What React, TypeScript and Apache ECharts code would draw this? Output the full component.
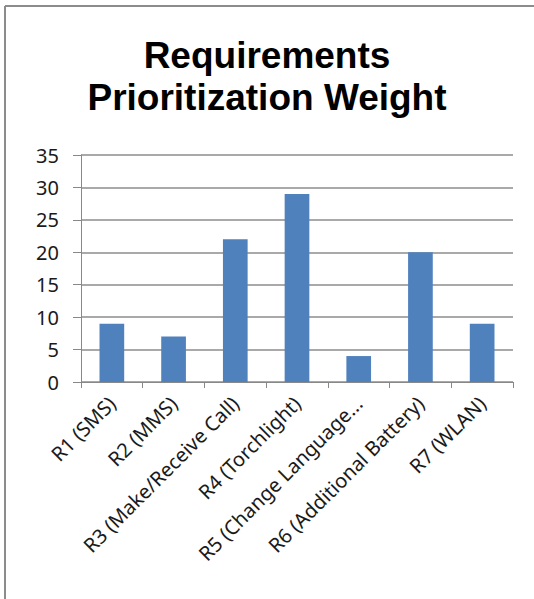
import React, { useEffect, useRef } from "react";
import * as echarts from "echarts";

const titleLines = ["Requirements", "Prioritization Weight"];
const categories = [
  "R1 (SMS)",
  "R2 (MMS)",
  "R3 (Make/Receive Call)",
  "R4 (Torchlight)",
  "R5 (Change Language...",
  "R6 (Additional Battery)",
  "R7 (WLAN)",
];
const weights = [9, 7, 22, 29, 4, 20, 9];
const yMin = 0;
const yMax = 35;
const yStep = 5;

export default function App() {
  const ref = useRef<HTMLDivElement>(null);
  useEffect(() => {
    if (!ref.current) return;
    const chart = echarts.init(ref.current, null, { renderer: "svg" });
    const font = "'Noto Sans', 'Open Sans', sans-serif";
    const titleStyle = {
      fontFamily: "'Liberation Sans', Arial, sans-serif",
      fontWeight: "bold",
      fontSize: 37,
      lineHeight: 41,
      color: "#000000",
    };
    chart.setOption({
      animation: false,
      backgroundColor: "#ffffff",
      title: titleLines.map((t, i) => ({
        text: t,
        left: "center",
        top: 35 + i * 42,
        padding: 0,
        textStyle: titleStyle,
      })),
      graphic: [
        {
          type: "line",
          shape: { x1: 5, y1: 6, x2: 5, y2: 599 },
          style: { stroke: "#8c8c8c", lineWidth: 2 },
        },
        {
          type: "line",
          shape: { x1: 5, y1: 6, x2: 534, y2: 6 },
          style: { stroke: "#8c8c8c", lineWidth: 2 },
        },
      ],
      grid: { left: 81, right: 21, top: 155, bottom: 217, containLabel: false },
      xAxis: {
        type: "category",
        data: categories,
        axisLine: { show: true, lineStyle: { color: "#888888", width: 1 } },
        axisTick: { show: true, length: 6, alignWithLabel: false, lineStyle: { color: "#888888" } },
        axisLabel: {
          rotate: 45,
          interval: 0,
          fontFamily: font,
          fontSize: 20,
          color: "#1a1a1a",
          margin: 18,
        },
      },
      yAxis: {
        type: "value",
        min: yMin,
        max: yMax,
        interval: yStep,
        axisLine: { show: true, lineStyle: { color: "#888888", width: 1 } },
        axisTick: { show: true, length: 8, lineStyle: { color: "#888888" } },
        splitLine: { show: true, lineStyle: { color: "#8c8c8c", width: 1.5 } },
        axisLabel: {
          fontFamily: font,
          fontSize: 20,
          color: "#1a1a1a",
          margin: 22,
        },
      },
      series: [
        {
          type: "bar",
          data: weights,
          barWidth: "40%",
          itemStyle: { color: "#4f81bd" },
        },
      ],
    });
    return () => chart.dispose();
  }, []);
  return (
    <div
      ref={ref}
      style={{ position: "fixed", left: 0, top: 0, width: 534, height: 599 }}
    />
  );
}
